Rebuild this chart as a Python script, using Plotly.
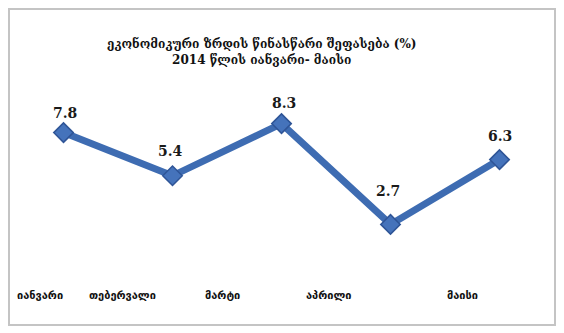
import plotly.graph_objects as go

months = ["იანვარი", "თებერვალი", "მარტი", "აპრილი", "მაისი"]
growth = [7.8, 5.4, 8.3, 2.7, 6.3]
label_shift = [-24, -50, -59, -62, -37]
value_lift = [20, 25, 21, 33, 24]
value_xshift = [1, -2, 2, -3, 0]
title_lines = ["ეკონომიკური ზრდის წინასწარი შეფასება (%)", "2014 წლის იანვარი- მაისი"]

W, H = 564, 333
ml, mr, mt, mb = 9, 10, 93, 60
ph = H - mt - mb
pw = W - ml - mr

fig = go.Figure()
fig.add_trace(go.Scatter(
    x=months, y=growth, mode="lines+markers",
    line=dict(color="#3e6cb2", width=7),
    marker=dict(symbol="diamond", size=15, color="#4573bb",
                line=dict(color="#2f5597", width=1.5)),
    cliponaxis=False,
    hoverinfo="skip",
))

for m, v, dy, dx in zip(months, growth, value_lift, value_xshift):
    fig.add_annotation(x=m, y=v, xref="x", yref="y", text=f"<b>{v:.1f}</b>",
                       showarrow=False, yshift=dy, xshift=dx,
                       font=dict(family="DejaVu Serif, Liberation Serif, serif", size=14, color="#1a1a1a"))

for m, s in zip(months, label_shift):
    fig.add_annotation(x=m, y=0, xref="x", yref="y", text=f"<b>{m}</b>",
                       showarrow=False, xshift=s, yshift=-22,
                       font=dict(family="DejaVu Sans, sans-serif", size=11, color="#111"))

fig.add_annotation(x=(261 - ml) / pw, y=(H - mb - 52) / ph, xref="paper", yref="paper",
                   text="<b>" + "<br>".join(title_lines) + "</b>",
                   showarrow=False, yanchor="middle", xanchor="center",
                   font=dict(family="DejaVu Serif, DejaVu Sans, serif", size=12, color="#111"))

fig.add_shape(type="rect", xref="paper", yref="paper",
              x0=(9 - ml) / pw, x1=(555 - ml) / pw,
              y0=(H - mb - 325) / ph, y1=(H - mb - 9) / ph,
              line=dict(color="#c4c4c4", width=2), fillcolor="rgba(0,0,0,0)", layer="below")

fig.update_layout(
    width=W, height=H,
    margin=dict(l=ml, r=mr, t=mt, b=mb),
    paper_bgcolor="white", plot_bgcolor="white",
    showlegend=False,
    xaxis=dict(range=[-0.5, 4.5], showticklabels=False, showgrid=False, zeroline=False, showline=False, ticks=""),
    yaxis=dict(range=[0, 10], visible=False),
)
fig.write_html("out.html")
